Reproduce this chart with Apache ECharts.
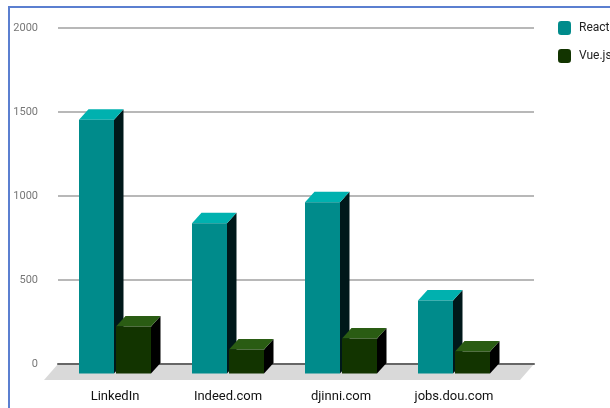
<!DOCTYPE html>
<html>
<head>
    <meta charset="utf-8">
    <style type="text/css">
        html, body { margin: 0; padding: 0; background: #fff; }
        #container { width: 610px; height: 408px; }
    </style>
    <script type="text/javascript" src="https://cdn.jsdelivr.net/npm/echarts@6/dist/echarts.min.js"></script>
</head>
<body>
<div id="container"></div>
<script type="text/javascript">
    const categories = ["LinkedIn", "Indeed.com", "djinni.com", "jobs.dou.com"];
    const reactValues = [1510, 895, 1020, 435];
    const vueValues = [280, 143, 208, 131];

    const depthX = 9.5;
    const depthY = 10.5;
    const frontDrop = 9.5;
    const barWidth = 35;

    // one 3d bar: front face, top face, dark side
    function barItem(side, colors) {
        return function (params, api) {
            const top = api.coord([api.value(0), api.value(1)]);
            const base = api.coord([api.value(0), 0]);
            const x0 = side < 0 ? top[0] - barWidth - 1 : top[0] + 1;
            const x1 = x0 + barWidth;
            const y0 = top[1] + frontDrop;
            const y1 = base[1] + frontDrop;
            return {
                type: "group",
                children: [
                    {
                        type: "polygon",
                        shape: {points: [[x1, y0], [x1 + depthX, y0 - depthY], [x1 + depthX, y1 - depthY], [x1, y1]]},
                        style: {fill: colors.side}
                    },
                    {
                        type: "polygon",
                        shape: {points: [[x0, y0], [x0 + depthX, y0 - depthY], [x1 + depthX, y0 - depthY], [x1, y0]]},
                        style: {fill: colors.top}
                    },
                    {
                        type: "rect",
                        shape: {x: x0, y: y0, width: barWidth, height: y1 - y0},
                        style: {fill: colors.front}
                    }
                ]
            };
        };
    }

    // grey floor under the bars
    function floorItem(params) {
        const r = params.coordSys;
        const back = r.y + r.height;
        return {
            type: "polygon",
            shape: {points: [[r.x, back], [r.x + r.width, back], [r.x + r.width - 14, back + 16], [r.x - 14, back + 16]]},
            style: {fill: "#d9d9d9"}
        };
    }

    const myChart = echarts.init(document.getElementById("container"));
    myChart.setOption({
        animation: false,
        textStyle: {fontFamily: "Roboto"},
        graphic: [{
            type: "rect",
            shape: {x: 9, y: 7, width: 700, height: 500},
            style: {fill: "none", stroke: "#5b7fd0", lineWidth: 2}
        }],
        legend: {
            orient: "vertical",
            left: 553,
            top: 16,
            itemWidth: 13,
            itemHeight: 14,
            itemGap: 14,
            icon: "roundRect",
            data: ["React", "Vue.js"],
            textStyle: {color: "#222", fontSize: 12, fontFamily: "Roboto", padding: [0, 0, 0, 3]}
        },
        grid: [
            {left: 58, top: 28, width: 476, height: 336},
            {left: 58.5, top: 28, width: 452, height: 336}
        ],
        xAxis: [
            {
                gridIndex: 0, type: "category", data: categories,
                axisLine: {lineStyle: {color: "#666", width: 2}},
                axisTick: {show: false}, axisLabel: {show: false}
            },
            {
                gridIndex: 1, type: "category", data: categories,
                axisLine: {show: false}, axisTick: {show: false},
                axisLabel: {color: "#111", fontSize: 13, margin: 26, interval: 0}
            }
        ],
        yAxis: [
            {
                gridIndex: 0, type: "value", min: 0, max: 2000, interval: 500,
                axisLine: {show: false}, axisTick: {show: false},
                axisLabel: {
                    color: "#777", fontSize: 11, margin: 20,
                    formatter: function (v) { return String(v); },
                    padding: [2, 0, 0, 0]
                },
                splitLine: {lineStyle: {color: "#a0a0a0", width: 1.5}}
            },
            {
                gridIndex: 1, type: "value", min: 0, max: 2000, interval: 500,
                show: false, splitLine: {show: false}
            }
        ],
        series: [
            {
                type: "custom", name: "floor", xAxisIndex: 0, yAxisIndex: 0, z: -1,
                renderItem: floorItem, data: [[0, 0]], silent: true
            },
            {
                type: "custom", name: "React", xAxisIndex: 1, yAxisIndex: 1,
                itemStyle: {color: "#008b8b"},
                renderItem: barItem(-1, {front: "#008b8b", top: "#00b1af", side: "#00181a"}),
                data: reactValues.map(function (v, i) { return [i, v]; })
            },
            {
                type: "custom", name: "Vue.js", xAxisIndex: 1, yAxisIndex: 1,
                itemStyle: {color: "#123400"},
                renderItem: barItem(1, {front: "#123400", top: "#2a5c13", side: "#000000"}),
                data: vueValues.map(function (v, i) { return [i, v]; })
            }
        ]
    });
</script>
</body>
</html>
